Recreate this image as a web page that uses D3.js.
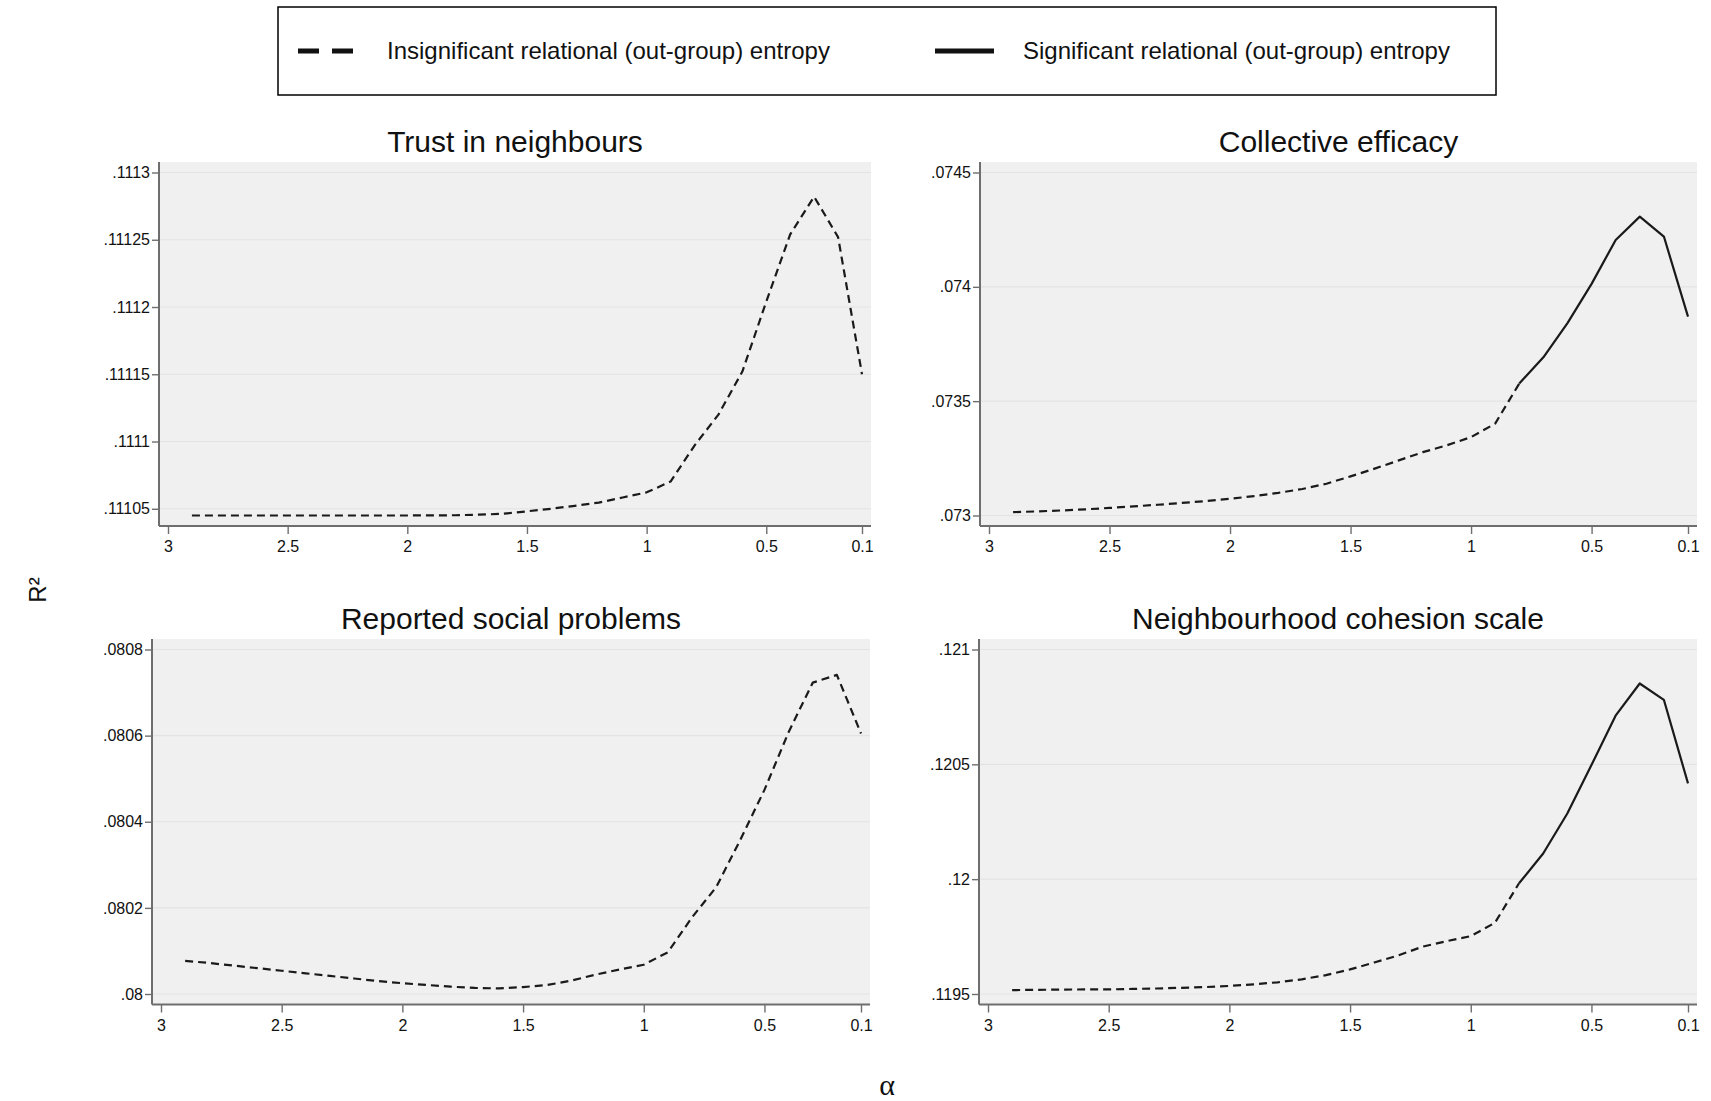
<!DOCTYPE html>
<html>
<head>
<meta charset="utf-8">
<script src="https://cdn.jsdelivr.net/npm/d3@7"></script>
<style>
  body { margin: 0; background: #fff; }
  text { font-family: "Liberation Sans", Arial, sans-serif; fill: #111; }
</style>
</head>
<body>
<svg width="1711" height="1101"></svg>
<script>
// x values (alpha), same grid for every panel
const alpha = [2.9, 2.8, 2.7, 2.6, 2.5, 2.4, 2.3, 2.2, 2.1, 2.0,
               1.9, 1.8, 1.7, 1.6, 1.5, 1.4, 1.3, 1.2, 1.1, 1.0,
               0.9, 0.8, 0.7, 0.6, 0.5, 0.4, 0.3, 0.2, 0.1];

// R2 values
const trust = [.111045, .111045, .111045, .111045, .111045, .111045, .111045, .111045, .111045, .111045,
               .1110451, .1110452, .1110456, .1110463, .1110481, .11105, .1110522, .1110546, .1110584, .1110622,
               .1110702, .111097, .11112, .111152, .111204, .111254, .111282, .111252, .11115];
const efficacy = [.0730145, .073018, .073022, .073027, .073033, .07304, .073047, .073055, .073063, .073073,
                  .073085, .073099, .073116, .073139, .073171, .073205, .073241, .073277, .073307, .073343,
                  .073402, .073577, .073692, .073841, .074013, .074205, .074307, .07422, .07387];
const problems = [.080077, .080072, .080066, .08006, .080054, .080048, .080042, .080036, .08003, .080025,
                  .080021, .080017, .080014, .080013, .080016, .080021, .080031, .080045, .080057, .080068,
                  .080097, .080178, .080248, .080358, .080474, .080608, .080723, .080741, .080605];
const cohesion = [.119517, .119518, .119519, .11952, .11952, .119522, .119524, .119527, .11953, .119535,
                  .119542, .119551, .119564, .119582, .119607, .119637, .119668, .119706, .11973, .119752,
                  .11981, .119982, .120112, .120286, .120497, .120712, .120852, .120781, .120417];

// 1 = significant relational entropy at that alpha
const trustSig    = [0,0,0,0,0,0,0,0,0,0, 0,0,0,0,0,0,0,0,0,0, 0,0,0,0,0,0,0,0,0];
const efficacySig = [0,0,0,0,0,0,0,0,0,0, 0,0,0,0,0,0,0,0,0,0, 0,1,1,1,1,1,1,1,1];
const problemsSig = [0,0,0,0,0,0,0,0,0,0, 0,0,0,0,0,0,0,0,0,0, 0,0,0,0,0,0,0,0,0];
const cohesionSig = [0,0,0,0,0,0,0,0,0,0, 0,0,0,0,0,0,0,0,0,0, 0,1,1,1,1,1,1,1,1];

const titles = ["Trust in neighbours", "Collective efficacy", "Reported social problems", "Neighbourhood cohesion scale"];

const xTicks = [3, 2.5, 2, 1.5, 1, 0.5, 0.1];
const xTickLabels = ["3", "2.5", "2", "1.5", "1", "0.5", "0.1"];

const trustTicks = [.11105, .1111, .11115, .1112, .11125, .1113];
const trustLabels = [".11105", ".1111", ".11115", ".1112", ".11125", ".1113"];
const efficacyTicks = [.073, .0735, .074, .0745];
const efficacyLabels = [".073", ".0735", ".074", ".0745"];
const problemsTicks = [.08, .0802, .0804, .0806, .0808];
const problemsLabels = [".08", ".0802", ".0804", ".0806", ".0808"];
const cohesionTicks = [.1195, .12, .1205, .121];
const cohesionLabels = [".1195", ".12", ".1205", ".121"];

const legendLabels = ["Insignificant relational (out-group) entropy", "Significant relational (out-group) entropy"];

const svg = d3.select("svg");

svg.append("rect").attr("width", 1711).attr("height", 1101).attr("fill", "#fff");

// plot regions (layout only)
const panels = [
  {title: titles[0], values: trust,    sig: trustSig,    ticks: trustTicks,    labels: trustLabels,    left: 159, right: 871,  top: 162, bottom: 526},
  {title: titles[1], values: efficacy, sig: efficacySig, ticks: efficacyTicks, labels: efficacyLabels, left: 980, right: 1697, top: 162, bottom: 526},
  {title: titles[2], values: problems, sig: problemsSig, ticks: problemsTicks, labels: problemsLabels, left: 152, right: 870,  top: 639, bottom: 1004.5},
  {title: titles[3], values: cohesion, sig: cohesionSig, ticks: cohesionTicks, labels: cohesionLabels, left: 979, right: 1697, top: 639, bottom: 1004.5}
];

panels.forEach(function (p) {
  const g = svg.append("g");

  const x = d3.scaleLinear()
    .domain([3, 0.1])
    .range([p.left + 9, p.right - 9]);

  const y = d3.scaleLinear()
    .domain(d3.extent(p.values.concat(p.ticks)))
    .range([p.bottom - 10.5, p.top + 10.5]);

  // plot background + grid
  g.append("rect")
    .attr("x", p.left).attr("y", p.top)
    .attr("width", p.right - p.left).attr("height", p.bottom - p.top)
    .attr("fill", "#f0f0f0");

  g.selectAll(".grid")
    .data(p.ticks)
    .join("line")
      .attr("x1", p.left).attr("x2", p.right)
      .attr("y1", d => y(d)).attr("y2", d => y(d))
      .attr("stroke", "#e3e3e3")
      .attr("stroke-width", 1.2);

  // axes
  const yAxis = g.append("g")
    .attr("transform", `translate(${p.left},0)`)
    .call(d3.axisLeft(y).tickValues(p.ticks).tickFormat((d, i) => p.labels[i]).tickSize(7).tickPadding(2).tickSizeOuter(0));
  const xAxis = g.append("g")
    .attr("transform", `translate(0,${p.bottom})`)
    .call(d3.axisBottom(x).tickValues(xTicks).tickFormat((d, i) => xTickLabels[i]).tickSize(8).tickPadding(7).tickSizeOuter(0));

  [yAxis, xAxis].forEach(function (a) {
    a.select(".domain").remove();
    a.selectAll(".tick line").attr("stroke", "#6e6e6e").attr("stroke-width", 1.4);
    a.selectAll(".tick text").style("font-size", "16px").attr("fill", "#222")
      .style("font-family", '"Liberation Sans", Arial, sans-serif');
  });

  g.append("line")
    .attr("x1", p.left).attr("x2", p.left)
    .attr("y1", p.top).attr("y2", p.bottom)
    .attr("stroke", "#6e6e6e").attr("stroke-width", 2);
  g.append("line")
    .attr("x1", p.left).attr("x2", p.right)
    .attr("y1", p.bottom).attr("y2", p.bottom)
    .attr("stroke", "#6e6e6e").attr("stroke-width", 2);

  // split the curve into runs of dashed / solid
  const pts = alpha.map((a, i) => ({a: a, v: p.values[i], s: p.sig[i]}));
  const runs = [];
  for (let i = 0; i < pts.length - 1; i++) {
    const solid = pts[i].s && pts[i + 1].s ? 1 : 0;
    if (runs.length && runs[runs.length - 1].solid === solid) {
      runs[runs.length - 1].pts.push(pts[i + 1]);
    } else {
      runs.push({solid: solid, pts: [pts[i], pts[i + 1]]});
    }
  }

  const line = d3.line().x(d => x(d.a)).y(d => y(d.v));

  g.selectAll(".run")
    .data(runs)
    .join("path")
      .attr("d", d => line(d.pts))
      .attr("fill", "none")
      .attr("stroke", "#1a1a1a")
      .attr("stroke-width", 2.2)
      .attr("stroke-linejoin", "round")
      .attr("stroke-dasharray", d => d.solid ? null : "8,5");

  g.append("text")
    .attr("x", (p.left + p.right) / 2)
    .attr("y", p.top - 10)
    .attr("text-anchor", "middle")
    .style("font-size", "30px")
    .text(p.title);
});

// legend
const legend = svg.append("g");
legend.append("rect")
  .attr("x", 278).attr("y", 7).attr("width", 1218).attr("height", 88)
  .attr("fill", "#fff").attr("stroke", "#000").attr("stroke-width", 1.5);

legend.append("line")
  .attr("x1", 298).attr("x2", 354).attr("y1", 51).attr("y2", 51)
  .attr("stroke", "#111").attr("stroke-width", 5).attr("stroke-dasharray", "21,13");
legend.append("line")
  .attr("x1", 935).attr("x2", 994).attr("y1", 51).attr("y2", 51)
  .attr("stroke", "#111").attr("stroke-width", 5);

legend.append("text").attr("x", 387).attr("y", 51).attr("dy", "0.35em")
  .style("font-size", "24px").text(legendLabels[0]);
legend.append("text").attr("x", 1023).attr("y", 51).attr("dy", "0.35em")
  .style("font-size", "24px").text(legendLabels[1]);

// axis titles
svg.append("text")
  .attr("transform", "translate(38,590) rotate(-90)")
  .attr("text-anchor", "middle").attr("dy", "0.35em")
  .style("font-size", "24px")
  .text("R²");

svg.append("text")
  .attr("x", 887).attr("y", 1086).attr("dy", "0.3em")
  .attr("text-anchor", "middle")
  .style("font-family", '"Liberation Serif", "DejaVu Serif", serif')
  .style("font-size", "30px")
  .text("α");
</script>
</body>
</html>
